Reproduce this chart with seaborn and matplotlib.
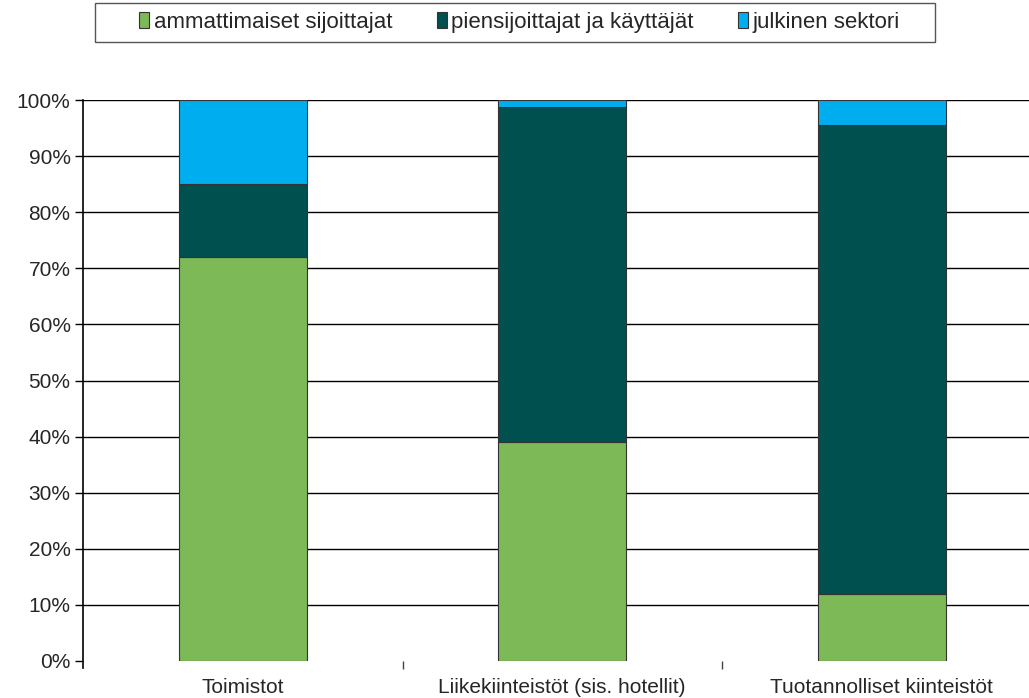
import numpy as np
import pandas as pd
import seaborn as sns
import matplotlib.pyplot as plt
from matplotlib.patches import Rectangle
from matplotlib.ticker import PercentFormatter, FixedLocator

categories = ["Toimistot", "Liikekiinteistöt (sis. hotellit)", "Tuotannolliset kiinteistöt"]
ammattimaiset = [72.0, 39.0, 12.0]
piensijoittajat = [13.0, 59.7, 83.5]
julkinen = [15.0, 1.3, 4.5]
series_names = ["ammattimaiset sijoittajat", "piensijoittajat ja käyttäjät", "julkinen sektori"]
colors = ["#7db956", "#005050", "#00aeef"]

sns.set_style("white")
plt.rcParams["font.family"] = ["Liberation Sans", "DejaVu Sans"]

W, H = 1029, 698
fig = plt.figure(figsize=(W / 100, H / 100), dpi=100)
ax = fig.add_axes([83 / W, 37 / H, 958.5 / W, 561 / H])

df = pd.DataFrame({"kategoria": categories, "a": ammattimaiset, "p": piensijoittajat, "j": julkinen})
bottom = np.zeros(len(categories))
for col, name, c in zip(["a", "p", "j"], series_names, colors):
    sns.barplot(data=df, x="kategoria", y=col, color=c, width=0.4, bottom=bottom,
                edgecolor="#333333", linewidth=0.8, label=name, ax=ax, saturation=1)
    bottom = bottom + df[col].to_numpy()

ax.set_ylim(0, 100)
ax.set_xlim(-0.5, 2.5)
ax.set_yticks(np.arange(0, 101, 10))
ax.yaxis.set_major_formatter(PercentFormatter(decimals=0))
ax.grid(axis="y", color="black", linewidth=1.0)
ax.get_ygridlines()[0].set_visible(False)
ax.set_axisbelow(True)
ax.set_xlabel("")
ax.set_ylabel("")
for s in ["top", "right", "bottom"]:
    ax.spines[s].set_visible(False)
ax.spines["left"].set_color("black")
ax.spines["left"].set_linewidth(1.2)
ax.spines["left"].set_bounds(-1.3, 100)
ax.tick_params(axis="y", which="major", left=True, length=6, width=1, color="black",
               labelsize=15, pad=3)
ax.tick_params(axis="x", which="major", bottom=False, labelsize=15, pad=9)
ax.xaxis.set_minor_locator(FixedLocator([0.5, 1.5]))
ax.tick_params(axis="x", which="minor", bottom=True, length=6, width=1, color="#444444")

leg = ax.get_legend()
if leg is not None:
    leg.remove()
handles, labels = ax.get_legend_handles_labels()
lg = fig.legend(handles, labels, loc="center", bbox_to_anchor=(519.5 / W, 1 - 22.5 / H),
                ncol=3, frameon=False, fontsize=16,
                handlelength=0.45, handleheight=0.75, handletextpad=0.2, columnspacing=2.0,
                borderpad=0, borderaxespad=0)
fig.patches.append(Rectangle((95 / W, 1 - 42 / H), 840 / W, 39 / H, transform=fig.transFigure,
                             fill=False, edgecolor="#555555", linewidth=1.0))

fig.savefig("out.png", dpi=100)
